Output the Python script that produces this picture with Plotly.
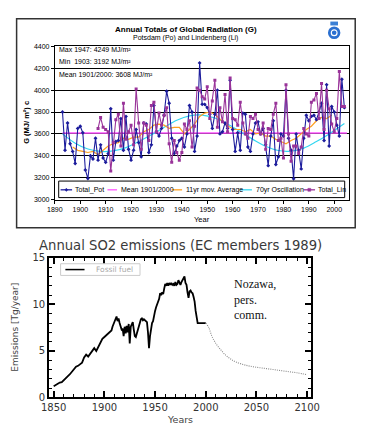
import plotly.graph_objects as go

W, H = 368, 438

# ---------------- Top chart data: Annual totals of global radiation ----------------
pot_years = list(range(1893, 2005))
pot_vals = [
    3800, 3450, 3700, 3510, 3440, 3330, 3650,              # 1893-1899
    3670, 3610, 3270, 3192, 3400, 3370, 3560, 3360, 3500, 3380,  # 1900-1909
    3340, 3420, 3830, 3360, 3530, 3540, 3740, 3450, 3760, 3460,  # 1910-1919
    3360, 3450, 3640, 3520, 3390, 3700, 3690, 3430, 3500, 3860,  # 1920-1929
    3620, 3580, 3650, 3770, 3990, 3880, 3560, 3420, 3490, 3540,  # 1930-1939
    3560, 3480, 3600, 3860, 3800, 3440, 3580, 4249, 3870, 3870,  # 1940-1949
    3840, 3780, 3650, 3780, 4000, 3600, 3620, 3700, 3650, 4090,  # 1950-1959
    3640, 3440, 3610, 3450, 3790, 3780, 3480, 3440, 3600, 3700,  # 1960-1969
    3710, 3600, 3650, 3500, 3310, 3580, 3720, 3320, 3390, 3600,  # 1970-1979
    3580, 4000, 3560, 3450, 3190, 3600, 3450, 3280, 3560, 3770,  # 1980-1989
    3720, 3760, 3770, 3730, 3800, 3880, 3540, 4050, 3490, 3850,  # 1990-1999
    3800, 3680, 3580, 4100, 3840,                                # 2000-2004
]
lin_years = list(range(1907, 2005))
lin_vals = [
    3650, 3750, 3660,                                            # 1907-1909
    3640, 3620, 3260, 3520, 3730, 3780, 3490, 3880, 3550, 3620,  # 1910-1919
    3680, 3500, 4010, 3700, 3460, 3700, 3680, 3540, 3860, 3890,  # 1920-1929
    3620, 3790, 3680, 3770, 3840, 3510, 3340, 3540, 3430, 3360,  # 1930-1939
    3430, 3690, 3640, 3720, 3480, 3670, 4020, 4000, 3940, 3920,  # 1940-1949
    4030, 3740, 3900, 4090, 3660, 3840, 3710, 3960, 3620, 4110,  # 1950-1959
    3740, 3730, 3680, 3890, 3700, 3600, 3560, 3760, 3740, 3780,  # 1960-1969
    3640, 3600, 3700, 3460, 3650, 3640, 3780, 3880, 3540, 3560,  # 1970-1979
    3380, 4050, 3600, 3350, 3490, 3490, 3420, 3480, 3650, 3600,  # 1980-1989
    3580, 3890, 3910, 3970, 3740, 4060, 3640, 4000, 3830, 3690,  # 1990-1999
    3620, 3740, 4170, 3850, 3850,                                # 2000-2004
]
mean_years = [1893, 2005]
mean_vals = [3608, 3608]
ma_years = [1897, 1899, 1901, 1903, 1905, 1907, 1909, 1911, 1913, 1915, 1917, 1919,
            1921, 1923, 1925, 1927, 1929, 1931, 1933, 1935, 1937, 1939, 1941, 1943,
            1945, 1947, 1949, 1951, 1953, 1955, 1957, 1959, 1961, 1963, 1965, 1967,
            1969, 1971, 1973, 1975, 1977, 1979, 1981, 1983, 1985, 1987, 1989, 1991,
            1993, 1995, 1997, 1999]
ma_vals = [3480, 3450, 3440, 3430, 3440, 3410, 3450, 3490, 3510, 3520, 3560, 3550,
           3570, 3570, 3620, 3640, 3680, 3690, 3680, 3650, 3660, 3660, 3600, 3640,
           3690, 3760, 3790, 3800, 3780, 3730, 3690, 3660, 3640, 3640, 3620, 3640,
           3600, 3610, 3580, 3580, 3550, 3530, 3510, 3540, 3560, 3600, 3640, 3670,
           3720, 3750, 3740, 3770]
osc_years = [1893, 1898, 1903, 1908, 1913, 1918, 1923, 1928, 1933, 1938, 1943, 1948,
             1953, 1958, 1963, 1968, 1973, 1978, 1983, 1988, 1993, 1998, 2004]
osc_vals = [3600, 3515, 3462, 3440, 3445, 3475, 3530, 3592, 3660, 3725, 3765, 3772,
            3745, 3690, 3620, 3550, 3487, 3448, 3443, 3470, 3530, 3600, 3695]

top_title = "Annual Totals of Global Radiation (G)"
top_subtitle = "Potsdam (Po) and Lindenberg (Li)"
top_notes = ["Max 1947: 4249 MJ/m²", "Min  1903: 3192 MJ/m²", "Mean 1901/2000: 3608 MJ/m²"]
top_legend = ["Total_Pot", "Mean 1901/2000", "11yr mov. Average", "70yr Oscillation", "Total_Lin"]
top_yticks = [3000, 3200, 3400, 3600, 3800, 4000, 4200, 4400]
top_xticks = list(range(1890, 2001, 10))

# ---------------- Bottom chart data: SO2 emissions ----------------
ff_years = [1850, 1852, 1854, 1856, 1858, 1860, 1862, 1864, 1866, 1868, 1870, 1872,
            1874, 1876, 1878, 1880, 1882, 1884, 1886, 1888, 1890, 1892, 1894, 1896,
            1898, 1900, 1902, 1904, 1906,
            1907, 1908, 1909, 1910, 1911, 1912, 1913, 1914, 1915, 1916, 1917, 1918, 1919,
            1920, 1921, 1922, 1923, 1924, 1925, 1926, 1927, 1928, 1929,
            1930, 1931, 1932, 1933, 1934, 1935, 1936, 1937, 1938, 1939,
            1940, 1941, 1942, 1943, 1944, 1945, 1946, 1947, 1948, 1949,
            1950, 1951, 1952, 1953, 1954, 1955, 1956, 1957, 1958, 1959,
            1960, 1961, 1962, 1963, 1964, 1965, 1966, 1967, 1968, 1969,
            1970, 1971, 1972, 1973, 1974, 1975, 1976, 1977, 1978, 1979,
            1980, 1981, 1982, 1983, 1984, 1985, 1986, 1987, 1988, 1989,
            1990, 1991, 1992, 1996, 2000]
ff_vals = [1.2, 1.35, 1.5, 1.6, 1.65, 1.9, 2.1, 2.3, 2.5, 2.75, 2.95, 3.3,
           3.4, 3.6, 3.75, 4.3, 4.6, 4.4, 4.7, 5.1, 5.3, 5.0, 5.4, 5.8,
           6.3, 6.5, 6.7, 7.0, 7.1,
           7.2, 7.6, 7.9, 8.0, 8.3, 8.7, 8.2, 8.5, 8.0, 7.7, 7.3, 7.4, 6.6,
           7.6, 6.9, 7.7, 7.0, 7.9, 5.8, 7.6, 8.0, 8.1, 7.3,
           6.6, 6.5, 6.9, 7.3, 7.6, 7.9, 8.4, 8.5, 8.3, 8.4,
           8.3, 8.2, 8.1, 7.0, 5.3, 6.6, 7.6, 8.0, 8.2, 8.6,
           9.3, 9.7, 10.0, 10.5, 10.6, 11.2, 11.0, 11.3, 11.1, 11.7,
           12.2, 12.0, 12.3, 12.0, 12.3, 12.1, 12.3, 12.1, 12.2, 12.0,
           12.4, 12.1, 12.2, 12.6, 12.2, 12.1, 12.4, 12.6, 12.7, 13.0,
           12.3, 12.1, 11.3, 10.7, 11.4, 11.5, 11.3, 11.2, 10.8, 10.3,
           9.3, 8.5, 8.0, 8.0, 8.0]
proj_years = [2000, 2003, 2006, 2010, 2015, 2020, 2025, 2030, 2040, 2050, 2060, 2070, 2080, 2090, 2100]
proj_vals = [8.0, 7.5, 6.6, 5.8, 5.1, 4.5, 4.1, 3.8, 3.45, 3.25, 3.1, 2.95, 2.8, 2.65, 2.45]

bot_title = "Annual SO2 emissions (EC members 1989)"
bot_legend = "Fossil fuel"
bot_note = "Nozawa,<br>pers.<br>comm."

# ---------------- Styling ----------------
ARIAL = "Arial, Liberation Sans, sans-serif"
DJV = "DejaVu Sans, sans-serif"
SERIF = "Times New Roman, Liberation Serif, serif"
C_POT = "#1c1c9c"
C_MEAN = "#ff55ff"
C_MA = "#ffa020"
C_OSC = "#33d6f0"
C_LIN = "#993399"


def px(x):
    return x / W


def py(y):
    return 1 - y / H


fig = go.Figure()

fig.add_trace(go.Scatter(x=mean_years, y=mean_vals, mode="lines", line=dict(color=C_MEAN, width=1.3),
                         xaxis="x", yaxis="y", showlegend=False))
fig.add_trace(go.Scatter(x=osc_years, y=osc_vals, mode="lines", line=dict(color=C_OSC, width=1.2, shape="spline"),
                         xaxis="x", yaxis="y", showlegend=False))
fig.add_trace(go.Scatter(x=ma_years, y=ma_vals, mode="lines", line=dict(color=C_MA, width=1.2),
                         xaxis="x", yaxis="y", showlegend=False))
fig.add_trace(go.Scatter(x=pot_years, y=pot_vals, mode="lines+markers", line=dict(color=C_POT, width=1.1),
                         marker=dict(symbol="diamond", size=3, color=C_POT),
                         xaxis="x", yaxis="y", showlegend=False))
fig.add_trace(go.Scatter(x=lin_years, y=lin_vals, mode="lines+markers", line=dict(color=C_LIN, width=1.1),
                         marker=dict(symbol="square", size=3, color=C_LIN),
                         xaxis="x", yaxis="y", showlegend=False))

fig.add_trace(go.Scatter(x=ff_years, y=ff_vals, mode="lines", line=dict(color="black", width=1.8),
                         xaxis="x2", yaxis="y2", showlegend=False))
fig.add_trace(go.Scatter(x=proj_years, y=proj_vals, mode="lines",
                         line=dict(color="#8a8a8a", width=1.1, dash="1px,1.2px", shape="spline"),
                         xaxis="x2", yaxis="y2", showlegend=False))

shapes = []
# outer frame of top chart
shapes.append(dict(type="rect", xref="paper", yref="paper", x0=px(9), x1=px(363), y0=py(228), y1=py(13),
                   line=dict(color="#333333", width=1.5), layer="below"))
# logo (simple approximation)
shapes.append(dict(type="rect", xref="paper", yref="paper", x0=px(337), x1=px(345), y0=py(20), y1=py(16),
                   line=dict(width=0), fillcolor="#3a7fd5"))
shapes.append(dict(type="circle", xref="paper", yref="paper", x0=px(334.5), x1=px(347.5), y0=py(34), y1=py(21),
                   line=dict(width=0), fillcolor="#2a6fd0"))
shapes.append(dict(type="circle", xref="paper", yref="paper", x0=px(338), x1=px(344), y0=py(30.5), y1=py(24.5),
                   line=dict(color="white", width=1.2), fillcolor="#2a6fd0"))

# top legend box
shapes.append(dict(type="rect", xref="paper", yref="paper", x0=px(53), x1=px(352), y0=py(197), y1=py(180),
                   line=dict(color="black", width=1), fillcolor="white"))
leg_y = 189
leg_items = [(55, 67, C_POT, 68), (104, 114, C_MEAN, 116), (171, 182, C_MA, 184),
             (243, 255, C_OSC, 257), (309, 321, C_LIN, 322)]
for (x0, x1, col, tx) in leg_items:
    shapes.append(dict(type="line", xref="paper", yref="paper", x0=px(x0), x1=px(x1), y0=py(leg_y), y1=py(leg_y),
                       line=dict(color=col, width=1.3)))
# markers in legend
shapes.append(dict(type="path", xref="paper", yref="paper",
                   path=f"M {px(61)} {py(leg_y-1.6)} L {px(62.6)} {py(leg_y)} L {px(61)} {py(leg_y+1.6)} L {px(59.4)} {py(leg_y)} Z",
                   line=dict(color=C_POT, width=0.5), fillcolor=C_POT))
shapes.append(dict(type="rect", xref="paper", yref="paper", x0=px(313.5), x1=px(316.5), y0=py(leg_y+1.5), y1=py(leg_y-1.5),
                   line=dict(color=C_LIN, width=0.5), fillcolor=C_LIN))

# bottom legend box
shapes.append(dict(type="rect", xref="paper", yref="paper", x0=px(55), x1=px(138), y0=py(277), y1=py(265),
                   line=dict(color="#cccccc", width=1), fillcolor="white"))
shapes.append(dict(type="line", xref="paper", yref="paper", x0=px(60), x1=px(80), y0=py(271), y1=py(271),
                   line=dict(color="black", width=1.5)))


def ann(text, x, y, size, family=ARIAL, color="black", xanchor="center", yanchor="middle", **kw):
    return dict(text=text, x=px(x), y=py(y), xref="paper", yref="paper", showarrow=False,
                font=dict(size=size, family=family, color=color), xanchor=xanchor, yanchor=yanchor, **kw)


annotations = [
    ann(f"<b>{top_title}</b>", 186, 24, 8),
    ann(top_subtitle, 186, 33, 7),
    ann(top_notes[0], 51, 45, 7, xanchor="left"),
    ann(top_notes[1], 51, 57, 7, xanchor="left"),
    ann(top_notes[2], 51, 70, 7, xanchor="left"),
    ann("Year", 203, 220, 7.5),
    ann("<b>G (MJ/ m²) c</b>", 20, 120, 7.5, textangle=-90),
]
for (x0, x1, col, tx), name in zip(leg_items, top_legend):
    annotations.append(ann(name, tx, leg_y, 7, xanchor="left"))

annotations += [
    ann(bot_title, 180, 246.5, 13.2, family=DJV, color="#3a3a3a", borderpad=0),
    ann(bot_legend, 90, 271, 7.5, family=DJV, color="#aaaaaa", xanchor="left"),
    ann(bot_note, 234, 302, 12, family=SERIF, color="#111111", xanchor="left", align="left"),
    ann("Years", 180, 425, 9.5, family=DJV, color="#444444"),
    ann("Emissions [Tg/year]", 7, 330, 9, family=DJV, color="#444444", textangle=-90),
]

fig.update_layout(
    width=W, height=H,
    margin=dict(l=0, r=0, t=0, b=0),
    paper_bgcolor="white", plot_bgcolor="white",
    showlegend=False,
    shapes=shapes,
    annotations=annotations,
    xaxis=dict(domain=[px(49), px(357)], anchor="y", range=[1890, 2006],
               tickvals=top_xticks, ticks="outside", ticklen=3, tickcolor="black",
               showline=True, linecolor="black", linewidth=1, mirror=True,
               showgrid=False, zeroline=False,
               tickfont=dict(size=7, family=ARIAL, color="black")),
    yaxis=dict(domain=[py(199), py(41.5)], anchor="x", range=[3000, 4400],
               tickvals=top_yticks, ticks="outside", ticklen=3, tickcolor="black",
               showline=True, linecolor="black", linewidth=1, mirror=True,
               showgrid=True, gridcolor="black", gridwidth=1, zeroline=False,
               tickfont=dict(size=7, family=ARIAL, color="black")),
    xaxis2=dict(domain=[px(43), px(317)], anchor="y2", range=[1845.5, 2104],
                tick0=1850, dtick=50, ticks="inside", ticklen=6, tickwidth=1.5, tickcolor="black",
                minor=dict(dtick=10, tick0=1850, ticks="inside", ticklen=3, tickcolor="black", tickwidth=1.2),
                showline=True, linecolor="black", linewidth=2, mirror="allticks",
                showgrid=False, zeroline=False,
                tickfont=dict(size=10, family=DJV, color="#333333")),
    yaxis2=dict(domain=[py(402.5), py(259)], anchor="x2", range=[0, 15],
                tick0=0, dtick=5, ticks="inside", ticklen=6, tickwidth=1.5, tickcolor="black",
                minor=dict(dtick=1, tick0=0, ticks="inside", ticklen=3, tickcolor="black", tickwidth=1.2),
                showline=True, linecolor="black", linewidth=2, mirror="allticks",
                showgrid=False, zeroline=False,
                tickfont=dict(size=10, family=DJV, color="#333333")),
)

fig.write_html("out.html")
